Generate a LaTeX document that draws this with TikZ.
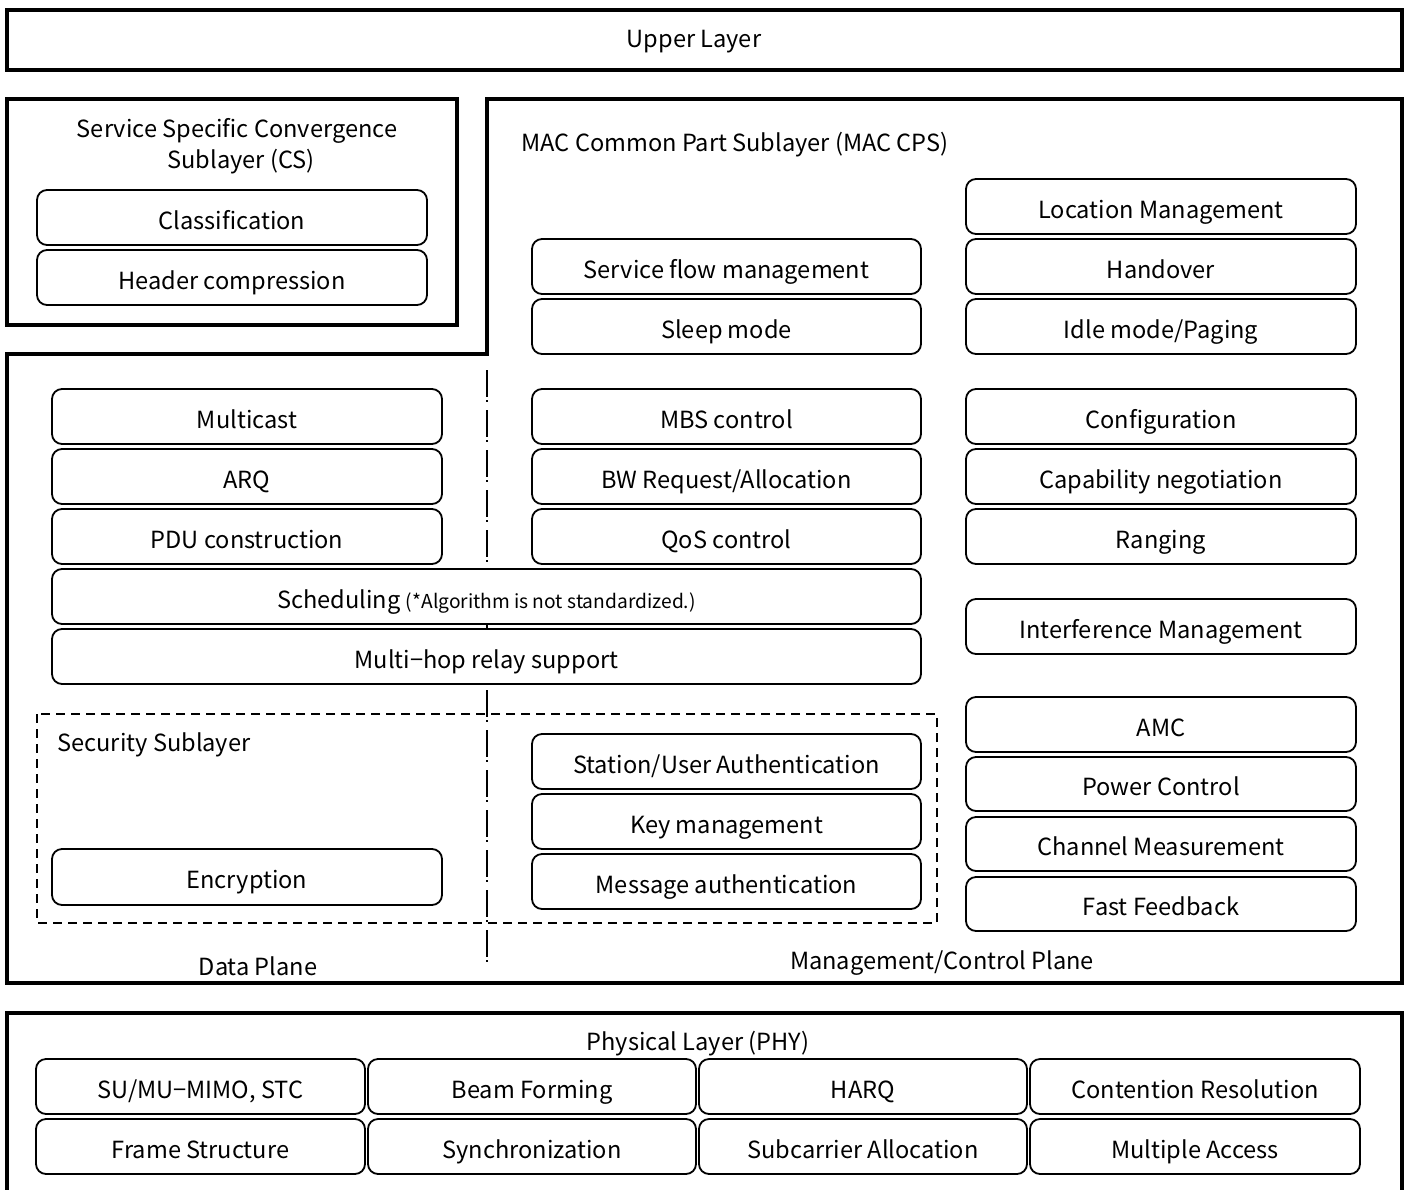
\documentclass[tikz,border=0pt]{standalone}
\usepackage{fontspec}
\setmainfont{Noto Sans CJK JP}
\begin{document}
\begin{tikzpicture}[x=0.5pt,y=-0.5pt,
  outline/.style={draw,line width=2pt},
  rbox/.style={draw,fill=white,line width=0.9pt,rounded corners=5pt,inner sep=0pt,text height=11.6pt,text depth=0pt,font=\fontsize{11.8}{14}\selectfont},
  lbl/.style={inner sep=0pt,anchor=base,font=\fontsize{11.8}{15.5}\selectfont},
  dashdot/.style={line width=1pt,dash pattern=on 13.5pt off 1.5pt on 1pt off 4pt},
  secbox/.style={line width=0.9pt,dash pattern=on 4.5pt off 3pt}]
\newcommand{\rb}[6]{\node[rbox,minimum width={(#4-#2)*0.5pt},minimum height={(#5-#3)*0.5pt}] (#1) at ({(#2+#4)/2},{(#3+#5)/2}) {#6};}
\useasboundingbox (0,0) rectangle (1408,1189);
% Upper layer
\draw[outline] (7,10) rectangle (1402,70);
\node[lbl] (uppert) at (694,47) {Upper Layer};
% CS
\draw[outline] (7,99) rectangle (457,325);
\node[lbl] (cst1) at (237,137) {Service Specific Convergence};
\node[lbl] (cst2) at (241,168) {Sublayer (CS)};
\rb{cls}{37}{190}{427}{245}{Classification}
\rb{hdr}{37}{250}{427}{305}{Header compression}
% MAC CPS outline
\draw[outline] (487,99) -- (1402,99) -- (1402,983) -- (7,983) -- (7,354) -- (487,354) -- cycle;
\node[lbl,anchor=base west] (cps) at (521,151) {MAC Common Part Sublayer (MAC CPS)};
% dash-dot divider
\coordinate (dtop) at (487,370);
\coordinate (dbot) at (487,970);
\draw[dashdot] (dtop) -- (dbot);
% security sublayer
\draw[secbox] (37,714) rectangle (937,923);
\node[lbl,anchor=base west] (sec) at (57,751) {Security Sublayer};
% right column
\rb{loc}{966}{179}{1356}{234}{Location Management}
\rb{ho}{966}{239}{1356}{294}{Handover}
\rb{idle}{966}{299}{1356}{354}{Idle mode/Paging}
\rb{conf}{966}{389}{1356}{444}{Configuration}
\rb{cap}{966}{449}{1356}{504}{Capability negotiation}
\rb{rng}{966}{509}{1356}{564}{Ranging}
\rb{intf}{966}{599}{1356}{654}{Interference Management}
\rb{amc}{966}{697}{1356}{752}{AMC}
\rb{pwr}{966}{757}{1356}{811}{Power Control}
\rb{chm}{966}{817}{1356}{871}{Channel Measurement}
\rb{ff}{966}{877}{1356}{931}{Fast Feedback}
% middle column
\rb{sfm}{532}{239}{921}{294}{Service flow management}
\rb{slp}{532}{299}{921}{354}{Sleep mode}
\rb{mbs}{532}{389}{921}{444}{MBS control}
\rb{bw}{532}{449}{921}{504}{BW Request/Allocation}
\rb{qos}{532}{509}{921}{564}{QoS control}
\rb{sua}{532}{734}{921}{789}{Station/User Authentication}
\rb{key}{532}{794}{921}{849}{Key management}
\rb{msg}{532}{854}{921}{909}{Message authentication}
% left column
\rb{mc}{52}{389}{442}{444}{Multicast}
\rb{arq}{52}{449}{442}{504}{ARQ}
\rb{pdu}{52}{509}{442}{564}{PDU construction}
\rb{enc}{52}{849}{442}{905}{Encryption}
% wide
\rb{sch}{52}{569}{921}{624}{Scheduling {\fontsize{9.6}{11}\selectfont(*Algorithm is not standardized.)}}
\rb{mhr}{52}{629}{921}{684}{Multi−hop relay support}
% plane labels
\node[lbl] (dp) at (258,975) {Data Plane};
\node[lbl] (mp) at (942,969) {Management/Control Plane};
% PHY
\draw[outline] (7,1200) -- (7,1013) -- (1402,1013) -- (1402,1200);
\node[lbl] (phy) at (698,1050) {Physical Layer (PHY)};
\rb{mimo}{36}{1059}{365}{1114}{SU/MU−MIMO, STC}
\rb{bf}{368}{1059}{696}{1114}{Beam Forming}
\rb{harq}{699}{1059}{1027}{1114}{HARQ}
\rb{cr}{1030}{1059}{1360}{1114}{Contention Resolution}
\rb{fs}{36}{1119}{365}{1174}{Frame Structure}
\rb{syn}{368}{1119}{696}{1174}{Synchronization}
\rb{sca}{699}{1119}{1027}{1174}{Subcarrier Allocation}
\rb{ma}{1030}{1119}{1360}{1174}{Multiple Access}
\end{tikzpicture}
\end{document}
